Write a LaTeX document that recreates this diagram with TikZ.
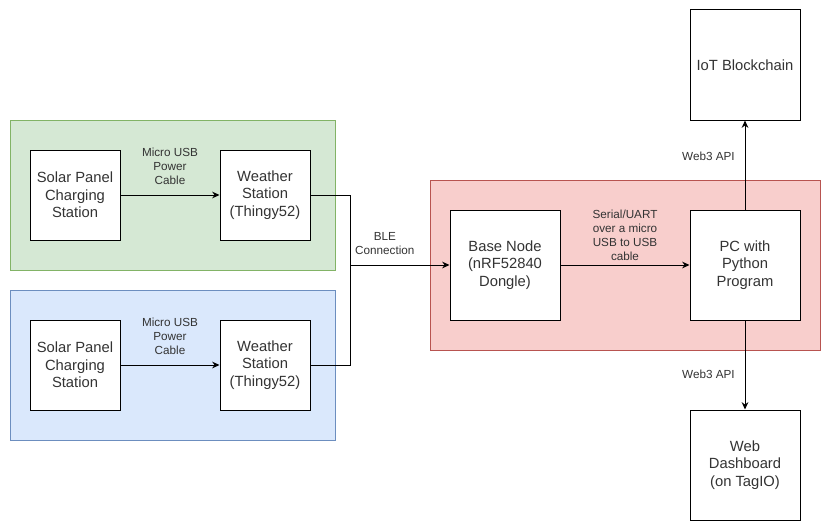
\documentclass[tikz,border=0pt]{standalone}
\usepackage{fontspec}
\setmainfont{Liberation Sans}
\usetikzlibrary{arrows.meta}
\definecolor{grnfill}{HTML}{D5E8D4}
\definecolor{grnline}{HTML}{82B366}
\definecolor{bluefill}{HTML}{DAE8FC}
\definecolor{blueline}{HTML}{6C8EBF}
\definecolor{redfill}{HTML}{F8CECC}
\definecolor{redline}{HTML}{B85450}
\definecolor{txt}{HTML}{333333}
\tikzset{
	block/.style={draw, fill=white, align=center, text=txt, inner sep=0pt, font=\fontsize{12.6}{15}\selectfont},
	smallbox/.style={block, minimum width=2.7cm, minimum height=2.7cm},
	bigbox/.style={block, minimum width=3.3cm, minimum height=3.3cm},
	lbl/.style={font=\fontsize{10}{12}\selectfont, text=txt, align=center},
	arr/.style={-{Stealth[length=2.2mm,width=2mm]}}
}
\begin{document}
\begin{tikzpicture}[x=0.03cm,y=-0.03cm,line width=0.85pt]
	\useasboundingbox (0,0) rectangle (831,531);
	% groups
	\draw[grnline,fill=grnfill] (10,120) rectangle (335,270);
	\draw[blueline,fill=bluefill] (10,290) rectangle (335,440);
	\draw[redline,fill=redfill] (430,180) rectangle (820,350);
	% stations
	\node[smallbox] (solarA) at (75,195) {Solar Panel\\Charging\\Station};
	\node[smallbox] (weatherA) at (265,195) {Weather\\Station\\(Thingy52)};
	\node[smallbox] (solarB) at (75,365) {Solar Panel\\Charging\\Station};
	\node[smallbox] (weatherB) at (265,365) {Weather\\Station\\(Thingy52)};
	% base and pc
	\node[bigbox] (base) at (505,265) {Base Node\\(nRF52840\\Dongle)};
	\node[bigbox] (pc) at (745,265) {PC with\\Python\\Program};
	\node[bigbox] (chain) at (745,65) {IoT Blockchain};
	\node[bigbox] (dash) at (745,465) {Web\\Dashboard\\(on TagIO)};
	\coordinate (ble) at (350,265);
	% connections
	\draw[arr] (solarA) -- (weatherA) node[lbl,midway,above=5pt] {Micro USB\\Power\\Cable};
	\draw[arr] (solarB) -- (weatherB) node[lbl,midway,above=5pt] {Micro USB\\Power\\Cable};
	\draw (weatherA.east) -| (ble);
	\draw (weatherB.east) -| (ble);
	\draw[arr] (ble) -- (base) node[lbl,pos=0.35,above=5pt] {BLE\\Connection};
	\draw[arr] (base) -- (pc) node[lbl,midway,above=0pt] {Serial/UART\\over a micro\\USB to USB\\cable};
	\draw[arr] (pc) -- (chain) node[lbl,pos=0.6,left=5pt] {Web3 API};
	\draw[arr] (pc) -- (dash) node[lbl,pos=0.6,left=5pt] {Web3 API};
\end{tikzpicture}
\end{document}
